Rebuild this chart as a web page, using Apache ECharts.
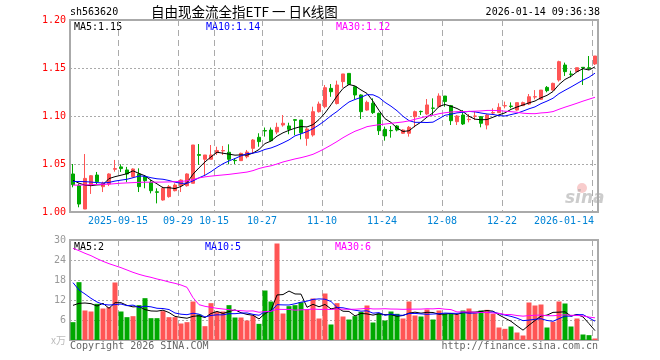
<!DOCTYPE html>
<html><head><meta charset="utf-8">
<script src="https://cdn.jsdelivr.net/npm/echarts@6/dist/echarts.min.js"></script>
<style>html,body{margin:0;padding:0;background:#fff}#c{width:660px;height:360px}</style>
</head><body><div id="c"></div>
<script>
const dates = [
'2025-09-03','2025-09-04','2025-09-05','2025-09-08','2025-09-09','2025-09-10','2025-09-11','2025-09-12','2025-09-15','2025-09-16',
'2025-09-17','2025-09-18','2025-09-19','2025-09-22','2025-09-23','2025-09-24','2025-09-25','2025-09-26','2025-09-29','2025-09-30',
'2025-10-09','2025-10-10','2025-10-13','2025-10-14','2025-10-15','2025-10-16','2025-10-17','2025-10-20','2025-10-21','2025-10-22',
'2025-10-23','2025-10-24','2025-10-27','2025-10-28','2025-10-29','2025-10-30','2025-10-31','2025-11-03','2025-11-04','2025-11-05',
'2025-11-06','2025-11-07','2025-11-10','2025-11-11','2025-11-12','2025-11-13','2025-11-14','2025-11-17','2025-11-18','2025-11-19',
'2025-11-20','2025-11-21','2025-11-24','2025-11-25','2025-11-26','2025-11-27','2025-11-28','2025-12-01','2025-12-02','2025-12-03',
'2025-12-04','2025-12-05','2025-12-08','2025-12-09','2025-12-10','2025-12-11','2025-12-12','2025-12-15','2025-12-16','2025-12-17',
'2025-12-18','2025-12-19','2025-12-22','2025-12-23','2025-12-24','2025-12-25','2025-12-26','2025-12-29','2025-12-30','2025-12-31',
'2026-01-05','2026-01-06','2026-01-07','2026-01-08','2026-01-09','2026-01-12','2026-01-13','2026-01-14'];

const open = [1.0396,1.0274,1.0031,1.0285,1.0385,1.0264,1.0292,1.0445,1.0470,1.0438,
 1.0368,1.0396,1.0370,1.0309,1.0210,1.0125,1.0160,1.0222,1.0274,1.0274,
 1.0299,1.0598,1.0549,1.0549,1.0618,1.0636,1.0622,1.0538,1.0535,1.0576,
 1.0663,1.0778,1.0848,1.0854,1.0833,1.0906,1.0896,1.0962,1.0958,1.0767,
 1.0802,1.1045,1.1097,1.1288,1.1130,1.1358,1.1444,1.1305,1.1219,1.1062,
 1.1132,1.1028,1.0861,1.0850,1.0896,1.0820,1.0820,1.0993,1.1048,1.1021,
 1.1083,1.1097,1.1208,1.1108,1.0941,1.1010,1.0962,1.0997,1.0993,1.0906,
 1.1031,1.1035,1.1105,1.1103,1.1062,1.1108,1.1125,1.1198,1.1174,1.1298,
 1.1270,1.1375,1.1531,1.1437,1.1462,1.1507,1.1503,1.1542];
const close = [1.0285,1.0083,1.0350,1.0378,1.0316,1.0299,1.0396,1.0452,1.0452,1.0396,
 1.0448,1.0264,1.0326,1.0222,1.0205,1.0247,1.0264,1.0281,1.0333,1.0396,
 1.0698,1.0590,1.0594,1.0594,1.0640,1.0640,1.0549,1.0535,1.0611,1.0625,
 1.0750,1.0733,1.0844,1.0743,1.0882,1.0924,1.0861,1.0955,1.0826,1.0865,
 1.1045,1.1125,1.1295,1.1253,1.1323,1.1438,1.1330,1.1219,1.1045,1.1142,
 1.1035,1.0847,1.0792,1.0847,1.0854,1.0854,1.0882,1.1045,1.1045,1.1115,
 1.1080,1.1208,1.1150,1.0951,1.1000,1.0917,1.0965,1.1000,1.0924,1.1010,
 1.1035,1.1090,1.1108,1.1100,1.1139,1.1139,1.1201,1.1201,1.1270,1.1264,
 1.1340,1.1566,1.1462,1.1434,1.1503,1.1500,1.1496,1.1625];
const low = [1.0257,1.0049,1.0031,1.0188,1.0290,1.0208,1.0270,1.0420,1.0417,1.0310,
 1.0360,1.0208,1.0247,1.0194,1.0090,1.0118,1.0149,1.0215,1.0208,1.0264,
 1.0299,1.0490,1.0385,1.0549,1.0594,1.0594,1.0497,1.0500,1.0531,1.0559,
 1.0611,1.0680,1.0785,1.0736,1.0810,1.0889,1.0810,1.0800,1.0757,1.0690,
 1.0785,1.1035,1.1080,1.1200,1.1120,1.1295,1.1323,1.1174,1.0969,1.1055,
 1.1021,1.0802,1.0743,1.0774,1.0840,1.0813,1.0785,1.0882,1.1010,1.1010,
 1.1010,1.1087,1.1097,1.0906,1.0906,1.0906,1.0934,1.0958,1.0882,1.0861,
 1.1021,1.1035,1.1080,1.1080,1.1055,1.1104,1.1115,1.1174,1.1167,1.1247,
 1.1264,1.1358,1.1417,1.1403,1.1462,1.1323,1.1480,1.1531];
const high = [1.0500,1.0295,1.0604,1.0385,1.0417,1.0316,1.0403,1.0542,1.0497,1.0470,
 1.0455,1.0455,1.0385,1.0333,1.0247,1.0264,1.0281,1.0299,1.0340,1.0403,
 1.0698,1.0708,1.0594,1.0698,1.0680,1.0688,1.0705,1.0560,1.0618,1.0646,
 1.0760,1.0820,1.0880,1.0880,1.0930,1.1010,1.0930,1.0965,1.0958,1.0880,
 1.1097,1.1150,1.1323,1.1333,1.1368,1.1438,1.1444,1.1312,1.1226,1.1160,
 1.1184,1.1035,1.0889,1.0896,1.0906,1.0861,1.0896,1.1056,1.1056,1.1177,
 1.1184,1.1236,1.1208,1.1115,1.1010,1.1062,1.1020,1.1045,1.1000,1.1020,
 1.1080,1.1132,1.1150,1.1142,1.1139,1.1150,1.1229,1.1270,1.1270,1.1312,
 1.1347,1.1576,1.1556,1.1472,1.1503,1.1507,1.1625,1.1625];

const volume = [5.35,17.35,8.85,8.55,10.85,9.45,9.85,17.25,8.55,6.85,
 7.15,10.45,12.55,6.55,6.55,8.65,6.85,6.85,4.95,5.35,
 11.55,7.65,4.15,11.05,8.45,8.55,10.45,6.75,6.75,5.85,
 7.35,4.85,14.85,11.55,28.95,7.95,10.15,10.45,11.35,9.15,
 12.45,6.45,13.95,4.65,11.05,7.05,6.15,7.15,8.45,10.35,
 5.25,8.05,5.85,8.55,7.85,6.45,11.55,7.35,7.05,9.15,
 6.15,8.85,7.85,7.85,7.65,8.85,9.45,8.05,8.85,9.05,
 7.85,3.75,3.35,4.05,2.25,1.35,11.25,10.35,10.65,3.75,
 5.45,11.55,10.95,4.05,6.45,1.65,1.45,0.45];

const ma5 = [1.0330,1.0300,1.0280,1.0274,1.0282,1.0285,1.0348,1.0368,1.0383,1.0399,
 1.0429,1.0402,1.0377,1.0331,1.0293,1.0253,1.0253,1.0244,1.0266,1.0304,
 1.0394,1.0460,1.0522,1.0574,1.0623,1.0612,1.0603,1.0592,1.0595,1.0592,
 1.0614,1.0651,1.0713,1.0739,1.0790,1.0825,1.0851,1.0873,1.0890,1.0886,
 1.0910,1.0963,1.1031,1.1117,1.1208,1.1287,1.1328,1.1313,1.1271,1.1235,
 1.1154,1.1058,1.0972,1.0933,1.0875,1.0839,1.0846,1.0896,1.0936,1.0988,
 1.1033,1.1099,1.1120,1.1101,1.1078,1.1045,1.0997,1.0967,1.0961,1.0963,
 1.0987,1.1012,1.1033,1.1069,1.1094,1.1115,1.1137,1.1156,1.1190,1.1215,
 1.1255,1.1328,1.1381,1.1413,1.1461,1.1493,1.1479,1.1512];
const ma10 = [1.0318,1.0318,1.0316,1.0312,1.0306,1.0302,1.0308,1.0322,1.0332,1.0341,
 1.0357,1.0375,1.0373,1.0357,1.0346,1.0341,1.0328,1.0311,1.0299,1.0299,
 1.0324,1.0356,1.0383,1.0420,1.0464,1.0503,1.0532,1.0557,1.0585,1.0608,
 1.0613,1.0627,1.0652,1.0667,1.0691,1.0720,1.0751,1.0793,1.0814,1.0838,
 1.0868,1.0907,1.0952,1.1003,1.1047,1.1099,1.1146,1.1172,1.1194,1.1222,
 1.1221,1.1193,1.1142,1.1102,1.1055,1.0997,1.0952,1.0934,1.0934,1.0932,
 1.0936,1.0972,1.1008,1.1018,1.1033,1.1039,1.1048,1.1043,1.1031,1.1021,
 1.1016,1.1004,1.1000,1.1015,1.1029,1.1051,1.1075,1.1095,1.1129,1.1155,
 1.1185,1.1233,1.1268,1.1302,1.1338,1.1374,1.1404,1.1446];
const ma30 = [1.0280,1.0280,1.0282,1.0284,1.0286,1.0288,1.0290,1.0295,1.0300,1.0303,
 1.0306,1.0309,1.0310,1.0311,1.0311,1.0312,1.0313,1.0316,1.0319,1.0325,
 1.0338,1.0355,1.0366,1.0374,1.0380,1.0386,1.0392,1.0400,1.0408,1.0416,
 1.0431,1.0453,1.0469,1.0481,1.0500,1.0521,1.0537,1.0553,1.0566,1.0582,
 1.0601,1.0630,1.0662,1.0697,1.0734,1.0774,1.0809,1.0841,1.0864,1.0889,
 1.0900,1.0909,1.0916,1.0924,1.0931,1.0938,1.0949,1.0966,1.0981,1.0997,
 1.1008,1.1024,1.1034,1.1041,1.1045,1.1045,1.1048,1.1050,1.1053,1.1058,
 1.1058,1.1056,1.1050,1.1045,1.1039,1.1029,1.1025,1.1024,1.1032,1.1036,
 1.1046,1.1070,1.1092,1.1112,1.1133,1.1155,1.1175,1.1195];

const vma5 = [10.4,11.0,11.1,10.9,10.19,11.01,9.51,11.19,11.19,10.39,
 9.93,10.05,9.11,8.71,8.65,8.95,8.23,7.09,6.77,6.53,
 7.11,7.27,6.73,7.95,8.57,7.97,8.53,9.05,8.19,7.67,
 7.43,6.31,7.93,8.89,13.51,13.63,14.69,13.81,13.77,9.81,
 10.71,9.97,10.67,9.33,9.71,8.63,8.57,7.21,7.97,7.83,
 7.47,7.85,7.59,7.61,7.11,7.35,8.05,8.35,8.05,8.31,
 8.25,7.71,7.81,7.97,7.67,8.21,8.33,8.37,8.57,8.85,
 8.65,7.51,6.57,5.61,4.25,2.95,4.45,5.85,7.17,7.47,
 8.29,8.35,8.47,7.15,7.69,6.93,4.91,2.81];
const vma10 = [17.2,15.0,13.8,12.5,11.4,10.7,10.5,10.6,10.8,10.29,
 10.47,9.78,10.15,9.95,9.52,9.44,9.14,8.10,7.74,7.59,
 8.03,7.75,6.91,7.36,7.55,7.54,7.90,7.89,8.07,8.12,
 7.70,7.42,8.49,8.54,10.59,10.53,10.50,10.87,11.33,11.66,
 12.17,12.33,12.24,11.55,9.76,9.67,9.27,8.94,8.65,8.77,
 8.05,8.21,7.40,7.79,7.47,7.41,7.95,7.97,7.83,7.71,
 7.80,7.88,8.08,8.01,7.99,8.23,8.02,8.09,8.27,8.26,
 8.43,7.92,7.47,7.09,6.55,5.80,5.98,6.21,6.39,5.86,
 5.62,6.40,7.16,7.16,7.58,7.61,6.63,5.64];
const vma30 = [27.5,26.8,26.0,25.3,24.4,23.6,22.9,22.3,21.7,21.0,
 20.3,19.7,19.2,18.8,18.3,17.9,17.4,17.0,16.5,15.8,
 12.7,10.6,10.1,9.8,9.5,9.3,9.1,8.9,8.8,8.67,
 8.73,8.32,8.52,8.62,9.22,9.17,9.18,8.95,9.05,9.12,
 9.30,9.17,9.21,9.15,9.30,9.25,9.22,9.23,9.35,9.52,
 9.31,9.32,9.38,9.29,9.27,9.20,9.24,9.26,9.27,9.38,
 9.34,9.47,9.24,9.12,8.41,8.44,8.41,8.33,8.25,8.25,
 8.09,8.00,7.65,7.63,7.34,7.15,7.32,7.42,7.50,7.28,
 7.28,7.40,7.57,7.42,7.37,7.21,6.88,6.65];

const tickDates = ['2025-09-15','2025-09-29','2025-10-15','2025-10-27','2025-11-10','2025-11-24','2025-12-08','2025-12-22','2026-01-14'];
const tickLabels = ['2025-09-15','09-29','10-15','10-27','11-10','11-24','12-08','12-22','2026-01-14'];
const legendPrice = ['MA5:1.15','MA10:1.14','MA30:1.12'];
const legendVolume = ['MA5:2','MA10:5','MA30:6'];

const RED = '#ff5555', GREEN = '#00a800', BLUE_T = '#0084d6';
const MONO = '"DejaVu Sans Mono","Liberation Mono",monospace';
const tickIdx = new Set(tickDates.map(d => dates.indexOf(d)));
const isTick = (i) => tickIdx.has(i);

const candle = dates.map((d, i) => [open[i], close[i], low[i], high[i]]);
const vol = volume.map((v, i) => ({ value: v, itemStyle: { color: close[i] >= open[i] ? RED : GREEN } }));

const lineS = (data, color, xi) => ({
  type: 'line', data, xAxisIndex: xi, yAxisIndex: xi, symbol: 'none', silent: true,
  lineStyle: { width: 1, color }, itemStyle: { color }, emphasis: { disabled: true }
});

const catAxis = (gi, showLabel) => ({
  type: 'category', gridIndex: gi, data: dates, boundaryGap: true,
  axisLine: { show: false }, axisTick: { show: false },
  axisLabel: {
    show: showLabel, interval: (i) => isTick(i), margin: 4,
    formatter: (v) => {
      const k = tickDates.indexOf(v);
      return k === tickDates.length - 1 ? '{e|' + tickLabels[k] + '}' : '{n|' + tickLabels[k] + '}';
    },
    rich: {
      n: { color: BLUE_T, fontFamily: MONO, fontSize: 10, padding: [0, 6, 0, 0] },
      e: { color: BLUE_T, fontFamily: MONO, fontSize: 10, padding: [0, 62, 0, 0] }
    }
  },
  splitLine: { show: true, interval: (i) => isTick(i), lineStyle: { color: '#aaa', width: 1, type: [6, 4] } }
});

const chart = echarts.init(document.getElementById('c'));
chart.setOption({
  animation: false,
  backgroundColor: '#fff',
  grid: [
    { left: 70, top: 20, width: 528, height: 192, show: true, borderColor: '#aaa', borderWidth: 2, backgroundColor: 'transparent' },
    { left: 70, top: 240, width: 528, height: 100, show: true, borderColor: '#aaa', borderWidth: 2, backgroundColor: 'transparent' }
  ],
  xAxis: [catAxis(0, true), catAxis(1, false)],
  yAxis: [
    { type: 'value', gridIndex: 0, min: 1.0, max: 1.2, interval: 0.05,
      axisLine: { show: false }, axisTick: { show: false },
      axisLabel: { color: '#ff0000', fontFamily: MONO, fontSize: 10, margin: 4, formatter: (v) => v.toFixed(2) },
      splitLine: { lineStyle: { color: '#aaa', type: [2, 2] } } },
    { type: 'value', gridIndex: 1, min: 0, max: 30, interval: 6,
      axisLine: { show: false }, axisTick: { show: false },
      axisLabel: { color: '#999', fontFamily: MONO, fontSize: 10, margin: 4,
        formatter: (v) => v === 0 ? '{u|x万}' : String(v),
        rich: { u: { color: '#bbb', fontSize: 10, fontFamily: '"Noto Sans CJK SC",' + MONO } } },
      splitLine: { lineStyle: { color: '#aaa', type: [2, 2] } } }
  ],
  series: [
    { type: 'candlestick', xAxisIndex: 0, yAxisIndex: 0, data: candle, barWidth: 4, silent: true,
      itemStyle: { color: RED, color0: GREEN, borderColor: RED, borderColor0: GREEN, borderWidth: 1 } },
    lineS(ma5, '#000000', 0), lineS(ma10, '#0000ff', 0), lineS(ma30, '#ff00ff', 0),
    { type: 'bar', xAxisIndex: 1, yAxisIndex: 1, data: vol, barWidth: 5, silent: true },
    lineS(vma5, '#000000', 1), lineS(vma10, '#0000ff', 1), lineS(vma30, '#ff00ff', 1)
  ],
  graphic: [
    { type: 'text', x: 70, y: 12, style: { text: 'sh563620', fill: '#000', font: '10px ' + MONO, align: 'left', verticalAlign: 'middle' } },
    { type: 'text', x: 151, y: 12, style: { text: '自由现金流全指ETF 一 日K线图', fill: '#000', font: '13.5px "Noto Sans CJK SC"', align: 'left', verticalAlign: 'middle' } },
    { type: 'text', x: 600, y: 12, style: { text: '2026-01-14 09:36:38', fill: '#000', font: '10px ' + MONO, align: 'right', verticalAlign: 'middle' } },
    { type: 'text', x: 74, y: 27, style: { text: legendPrice[0], fill: '#000', font: '10px ' + MONO, verticalAlign: 'middle' } },
    { type: 'text', x: 206, y: 27, style: { text: legendPrice[1], fill: '#0000ff', font: '10px ' + MONO, verticalAlign: 'middle' } },
    { type: 'text', x: 336, y: 27, style: { text: legendPrice[2], fill: '#ff00ff', font: '10px ' + MONO, verticalAlign: 'middle' } },
    { type: 'text', x: 74, y: 247, style: { text: legendVolume[0], fill: '#000', font: '10px ' + MONO, verticalAlign: 'middle' } },
    { type: 'text', x: 205, y: 247, style: { text: legendVolume[1], fill: '#0000ff', font: '10px ' + MONO, verticalAlign: 'middle' } },
    { type: 'text', x: 335, y: 247, style: { text: legendVolume[2], fill: '#ff00ff', font: '10px ' + MONO, verticalAlign: 'middle' } },
    { type: 'text', x: 70, y: 346, style: { text: 'Copyright 2026 SINA.COM', fill: '#666', font: '10px ' + MONO, verticalAlign: 'middle' } },
    { type: 'text', x: 598, y: 346, style: { text: 'http://finance.sina.com.cn', fill: '#666', font: '10px ' + MONO, align: 'right', verticalAlign: 'middle' } },
    { type: 'circle', shape: { cx: 582, cy: 188, r: 5 }, style: { fill: 'rgba(235,110,110,0.35)' }, silent: true },
    { type: 'text', x: 565, y: 199, style: { text: 'sina', fill: 'rgba(170,170,170,0.6)', font: 'italic bold 17px "DejaVu Sans"', verticalAlign: 'middle' }, silent: true }
  ]
});
</script>
</body></html>
